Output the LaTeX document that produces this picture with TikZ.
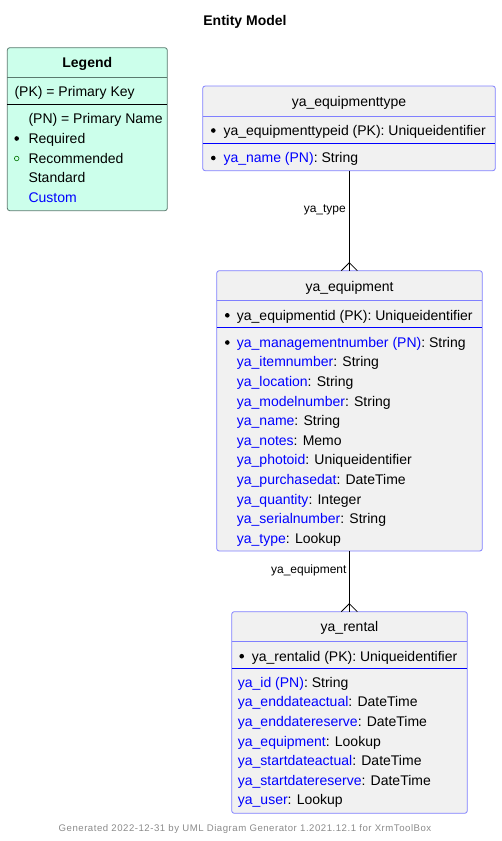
\documentclass[tikz,border=0pt]{standalone}
\usepackage{fontspec}
\setmainfont{Liberation Sans}
\newfontfamily\footfont[LetterSpace=5.5]{Liberation Sans}
\usetikzlibrary{positioning}
\definecolor{entfill}{HTML}{F1F1F1}
\definecolor{entborder}{HTML}{8080FF}
\definecolor{blusep}{HTML}{0000FF}
\definecolor{custom}{HTML}{0000FF}
\definecolor{legfill}{HTML}{CCFFEB}
\definecolor{legborder}{HTML}{5A7A6E}
\definecolor{footgray}{HTML}{8A8A8A}
\tikzset{
  ent/.style={draw=entborder, fill=entfill, rounded corners=2.5pt, line width=0.8pt},
  leg/.style={draw=legborder, fill=legfill, rounded corners=2.5pt, line width=0.8pt},
  row/.style={anchor=base west, inner sep=0pt, font=\fontsize{14}{16}\selectfont},
  hdr/.style={anchor=base, inner sep=0pt, font=\fontsize{14}{16}\selectfont},
  bul/.style={circle, fill=black, inner sep=0pt, minimum size=4.6pt},
  obul/.style={circle, draw=green!45!black, line width=0.6pt, inner sep=0pt, minimum size=4.6pt},
  rel/.style={draw=black, line width=0.8pt},
  rellabel/.style={anchor=base east, inner sep=0pt, font=\fontsize{12}{14}\selectfont},
}
\newcommand{\cu}[1]{\textcolor{custom}{#1}}
\begin{document}
\begin{tikzpicture}[x=1pt,y=-1pt]
\useasboundingbox (0,0) rectangle (501,841);
% title
\node[anchor=base, inner sep=0pt, font=\fontsize{14}{16}\selectfont\bfseries] (title) at (245,25) {Entity Model};

% legend
\path[leg] (7.3,47.7) rectangle (167.3,210.7);
\draw[legborder, line width=0.8pt] (7.3,77.7) -- (167.3,77.7);
\draw[black, line width=1pt] (7.3,104.7) -- (167.3,104.7);
\node[hdr, font=\fontsize{14}{16}\selectfont\bfseries] (legtitle) at (87.3,67.5) {Legend};
\node[row] (lpk) at (14.3,96.7) {(PK) = Primary Key};
\node[row] (lpn) at (28.3,123.3) {(PN) = Primary Name};
\node[bul] (lb1) at (16.7,138.5) {};
\node[row] (lreq) at (28.3,143.3) {Required};
\node[obul] (lb2) at (16.7,158.5) {};
\node[row] (lrec) at (28.3,163.1) {Recommended};
\node[row] (lstd) at (28.3,182.8) {Standard};
\node[row] (lcus) at (28.3,202.4) {\cu{Custom}};

% ya_equipmenttype
\path[ent] (202.7,86) rectangle (495.3,170.7);
\coordinate (et-bottom) at (349.3,170.7);
\draw[entborder, line width=0.8pt] (202.7,116) -- (495.3,116);
\draw[blusep, line width=0.9pt] (202.7,143.3) -- (495.3,143.3);
\node[hdr] (ethdr) at (349,106.7) {ya\_equipmenttype};
\node[bul] (etb1) at (213.3,130.5) {};
\node[row] (etpk) at (223.3,135.2) {ya\_equipmenttypeid (PK): Uniqueidentifier};
\node[bul] (etb2) at (213.3,158) {};
\node[row] (etname) at (223.3,162.8) {\cu{ya\_name (PN)}: String};

% ya_equipment
\path[ent] (216.7,270.7) rectangle (482.3,551);
\coordinate (eq-top) at (349.3,270.7);
\coordinate (eq-bottom) at (349.3,551);
\draw[entborder, line width=0.8pt] (216.7,300.7) -- (482.3,300.7);
\draw[blusep, line width=0.9pt] (216.7,327.3) -- (482.3,327.3);
\node[hdr] (eqhdr) at (349.5,291.7) {ya\_equipment};
\node[bul] (eqb1) at (227.3,315.3) {};
\node[row] (eqpk) at (236.7,320.1) {ya\_equipmentid (PK): Uniqueidentifier};
\node[bul] (eqb2) at (227.3,342.5) {};
\node[row] (eq1) at (236.7,347.3) {\cu{ya\_managementnumber (PN)}: String};
\node[row] (eq2) at (236.7,366.9) {\cu{ya\_itemnumber}: String};
\node[row] (eq3) at (236.7,386.5) {\cu{ya\_location}: String};
\node[row] (eq4) at (236.7,406.1) {\cu{ya\_modelnumber}: String};
\node[row] (eq5) at (236.7,425.7) {\cu{ya\_name}: String};
\node[row] (eq6) at (236.7,445.3) {\cu{ya\_notes}: Memo};
\node[row] (eq7) at (236.7,464.9) {\cu{ya\_photoid}: Uniqueidentifier};
\node[row] (eq8) at (236.7,484.5) {\cu{ya\_purchasedat}: DateTime};
\node[row] (eq9) at (236.7,504.1) {\cu{ya\_quantity}: Integer};
\node[row] (eq10) at (236.7,523.7) {\cu{ya\_serialnumber}: String};
\node[row] (eq11) at (236.7,543.3) {\cu{ya\_type}: Lookup};

% ya_rental
\path[ent] (231.7,611.7) rectangle (467.3,813.3);
\coordinate (re-top) at (349.3,611.7);
\draw[entborder, line width=0.8pt] (231.7,641.7) -- (467.3,641.7);
\draw[blusep, line width=0.9pt] (231.7,668.3) -- (467.3,668.3);
\node[hdr] (rehdr) at (349.5,631.7) {ya\_rental};
\node[bul] (reb1) at (241.7,656.2) {};
\node[row] (repk) at (251.7,661) {ya\_rentalid (PK): Uniqueidentifier};
\node[row] (re1) at (237.7,687.3) {\cu{ya\_id (PN)}: String};
\node[row] (re2) at (237.7,706.9) {\cu{ya\_enddateactual}: DateTime};
\node[row] (re3) at (237.7,726.5) {\cu{ya\_enddatereserve}: DateTime};
\node[row] (re4) at (237.7,746.1) {\cu{ya\_equipment}: Lookup};
\node[row] (re5) at (237.7,765.7) {\cu{ya\_startdateactual}: DateTime};
\node[row] (re6) at (237.7,785.3) {\cu{ya\_startdatereserve}: DateTime};
\node[row] (re7) at (237.7,804.9) {\cu{ya\_user}: Lookup};

% relations
\draw[rel] (et-bottom) -- (eq-top);
\draw[rel] ([xshift=-8pt]eq-top) -- ([yshift=8pt]eq-top) -- ([xshift=8pt]eq-top);
\node[rellabel] (l1) at (346,212.7) {ya\_type};
\draw[rel] (eq-bottom) -- (re-top);
\draw[rel] ([xshift=-8pt]re-top) -- ([yshift=8pt]re-top) -- ([xshift=8pt]re-top);
\node[rellabel] (l2) at (346.7,573.3) {ya\_equipment};

% footer
\node[anchor=base, inner sep=0pt, text=footgray, font=\footfont\fontsize{9.6}{12}\selectfont] (foot) at (245,831.5) {Generated 2022-12-31 by UML Diagram Generator 1.2021.12.1 for XrmToolBox};
\end{tikzpicture}
\end{document}
